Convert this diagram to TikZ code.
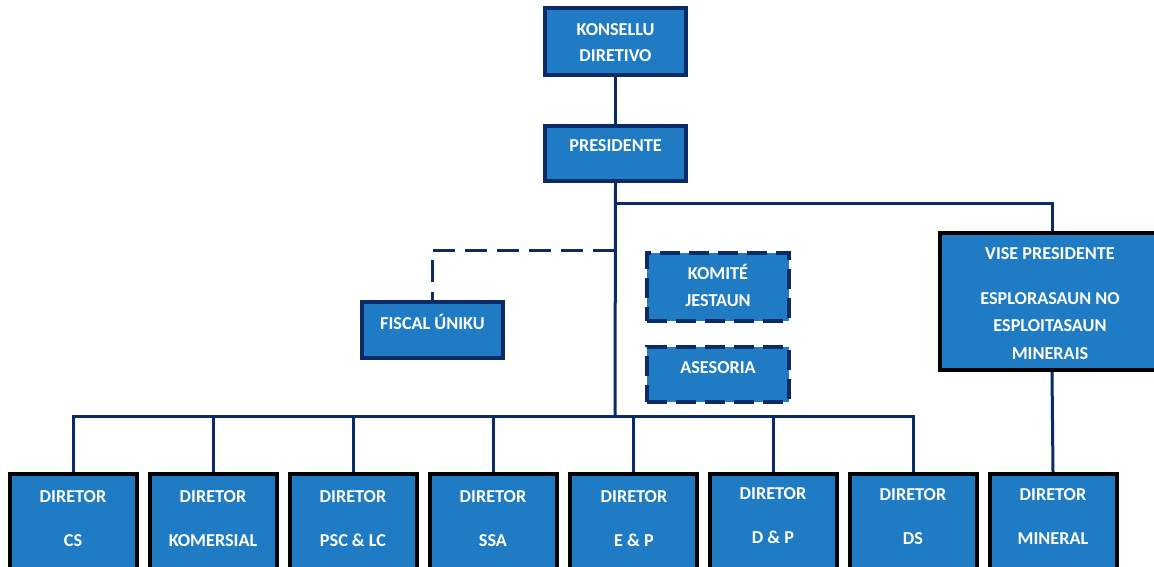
\documentclass[tikz,border=0pt]{standalone}
\usepackage{fontspec}
\setmainfont{Carlito}
\definecolor{boxblue}{HTML}{1E7BC4}
\definecolor{navy}{HTML}{0B2B66}
\begin{document}
\begin{tikzpicture}[x=1pt,y=-1pt,
  box/.style={rectangle,draw=black,line width=4pt,fill=boxblue,inner sep=0pt},
  topbox/.style={box,draw=navy},
  dashbox/.style={box,draw=navy,dash pattern=on 20pt off 9pt},
  txt/.style={text=white,font=\fontsize{18.2}{26}\selectfont\bfseries,align=center,anchor=base,inner sep=0pt},
  dtxt/.style={txt,font=\fontsize{18.2}{44}\selectfont\bfseries},
  conn/.style={draw=navy,line width=3pt},
  dconn/.style={conn,dash pattern=on 22pt off 10pt}]
\useasboundingbox (0,0) rectangle (1154,567);
\clip (0,0) rectangle (1154,567);
% boxes
\node[topbox,minimum width=141pt,minimum height=67pt] (kons) at (615.5,41.5) {};
\node[topbox,minimum width=141pt,minimum height=55pt] (pres) at (615.5,153.5) {};
\node[topbox,minimum width=141pt,minimum height=56pt] (fisc) at (432.5,330) {};
\node[dashbox,minimum width=142pt,minimum height=68pt] (komi) at (718,287) {};
\node[dashbox,minimum width=142pt,minimum height=55pt] (ases) at (718,374.5) {};
\node[box,minimum width=224pt,minimum height=137pt] (vp) at (1052,301.5) {};
\foreach \i/\x in {1/73,2/213,3/353,4/493,5/633,6/773,7/913,8/1053}{
  \node[box,minimum width=127pt,minimum height=110pt] (d\i) at (\x,529) {};
}
% texts (anchor=base is the baseline of the last line)
\node[txt] (kons-t) at (615.5,62) {KONSELLU\\DIRETIVO};
\node[txt] (pres-t) at (615.5,152) {PRESIDENTE};
\node[txt] (fisc-t) at (432.5,329) {FISCAL ÚNIKU};
\node[txt,font=\fontsize{18.2}{27}\selectfont\bfseries] (komi-t) at (718,306) {KOMITÉ\\JESTAUN};
\node[txt] (ases-t) at (718,373) {ASESORIA};
\node[txt,font=\fontsize{18.2}{27.5}\selectfont\bfseries] (vp-t) at (1050,359) {VISE PRESIDENTE\\[17.5pt]ESPLORASAUN NO\\ESPLOITASAUN\\MINERAIS};
\node[dtxt] (d1-t) at (73,546) {DIRETOR\\CS};
\node[dtxt] (d2-t) at (213,546) {DIRETOR\\KOMERSIAL};
\node[dtxt] (d3-t) at (353,546) {DIRETOR\\PSC \& LC};
\node[dtxt] (d4-t) at (493,546) {DIRETOR\\SSA};
\node[dtxt] (d5-t) at (634,546) {DIRETOR\\E \& P};
\node[dtxt] (d6-t) at (773,543) {DIRETOR\\D \& P};
\node[dtxt] (d7-t) at (913,544) {DIRETOR\\DS};
\node[dtxt] (d8-t) at (1053,544) {DIRETOR\\MINERAL};
% junctions
\coordinate (bus) at (615,416);
\coordinate (jvp) at (615,203);
\coordinate (jfi) at (615,250);
% connectors
\draw[conn] (kons.south) -- (pres.north);
\draw[conn] (pres.south) -- (bus);
\draw[conn] (jvp) -| (vp.north);
\draw[dconn] (jfi) -| (fisc.north);
\draw[conn] (d1.north) |- (bus) -| (d7.north);
\foreach \i in {2,...,6}{\draw[conn] (d\i.north) -- (d\i.north |- bus);}
\draw[conn] (vp.south) -- (d8.north);
\end{tikzpicture}
\end{document}
